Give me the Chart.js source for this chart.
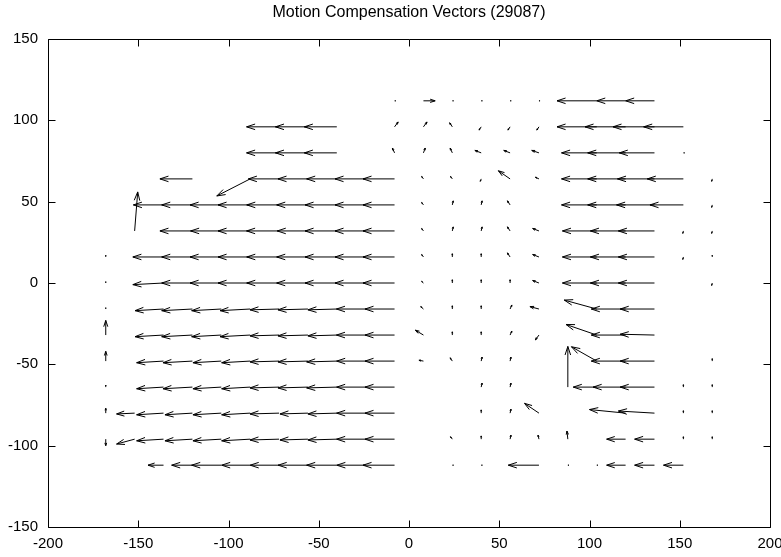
<!DOCTYPE html>
<html>
<head>
<meta charset="utf-8">
<script src="https://cdn.jsdelivr.net/npm/chart.js@4.4.1/dist/chart.umd.min.js"></script>
<style>
html,body{margin:0;padding:0;background:#fff;}
#wrap{width:781px;height:557px;}
</style>
</head>
<body>
<div id="wrap"><canvas id="c" width="781" height="557"></canvas></div>
<script>
const chartTitle = 'Motion Compensation Vectors (29087)';
const xTicks = [-200, -150, -100, -50, 0, 50, 100, 150, 200];
const yTicks = [-150, -100, -50, 0, 50, 100, 150];

// each row: [tail x, dx, dy]
const r112 = [[-8,0.6,0],[8,6.5,0],[24,0.6,0],[40,0.6,0],[56,0.6,0],[72,0.6,0],[104,-22,0],[120,-16,0],[136,-16,0]];
const r96 = [[-72,-18,0],[-56,-18,0],[-40,-18,0],
  [-8,2,3],[8,2,3],[24,-1.5,2.5],[40,-1.2,-2],[56,-1.2,-2],[72,-1.2,-2],
  [104,-22,0],[120,-22.5,0],[136,-23,0],[152,-22,0]];
const r80 = [[-72,-18,0],[-56,-18,0],[-40,-18,0],
  [-8,-1.2,3],[8,1,3],[24,-1.2,3],[40,-3.5,1.5],[56,-3.5,1.5],[72,-4,1.5],
  [104,-19.5,0],[120,-21,0],[136,-19.5,0],[152,0.6,0]];
const r64 = [[-120,-18,0],[-88,-18.5,-10.5],[-72,-17,0],[-56,-16.6,0],[-40,-16.7,0],[-24,-17,0],[-8,-17.5,0],
  [8,-1,1.5],[24,-1,1.5],[40,-0.5,-1.5],[56,-6.5,5],[72,-2,1],
  [104,-19.5,0],[120,-21,0],[136,-20.5,0],[152,-20,0],[168,-0.3,-1.5]];
const r48 = [[-136,-16.7,0],[-120,-17,0],[-104,-17.3,0],[-88,-17.8,0],[-72,-17.9,0],[-56,-17.3,0],[-40,-17.6,0],[-24,-17,0],[-8,-17.5,0],
  [8,-1,1.5],[24,0.5,2.5],[40,0.5,2.5],[56,-1.5,2.5],
  [104,-19.5,0],[120,-21,0],[136,-21,0],[152,-18.5,0],[168,-0.3,-1.5]];
const r32 = [[-152,1.7,24],[-120,-18,0],[-104,-17,0],[-88,-17.8,0],[-72,-18,0],[-56,-17,0],[-40,-17.6,0],[-24,-17,0],[-8,-17.5,0],
  [8,-1,1.5],[24,0.5,2.5],[40,0.5,2.5],[56,-1.5,2.5],[72,-3.5,1.5],
  [104,-19,0],[120,-19.5,0],[136,-20,0],[152,-0.3,-1.5],[168,-0.3,-1.5]];
const r16 = [[-168,0,1],[-136,-17,0],[-120,-17,0],[-104,-17.3,0],[-88,-17.8,0],[-72,-17.9,0],[-56,-17.3,0],[-40,-17.6,0],[-24,-17,0],[-8,-17.5,0],
  [8,-1,1.5],[24,0,2],[40,0,2],[56,-1.5,2.5],[72,-3.5,1.5],
  [104,-19,0],[120,-19.5,0],[136,-20,0],[152,-0.3,-1.5],[168,0,1]];
const r0 = [[-168,0,0.8],[-136,-17,-1],[-120,-17,0],[-104,-17.3,0],[-88,-17.8,0],[-72,-17.9,0],[-56,-17.3,0],[-40,-17.6,0],[-24,-17,0],[-8,-17.5,0],
  [8,-1,1],[24,0,2],[40,0,2],[56,0,2],[72,-3.5,1.5],
  [104,-19,0],[120,-19.5,0],[136,-20,0],[168,-0.3,-1.5]];
const rm16 = [[-168,0,0.8],[-136,-15.8,-1],[-120,-17,-1],[-104,-16.4,-1],[-88,-16.7,-1],[-72,-16.1,-0.5],[-56,-16.6,-0.5],[-40,-16,-0.5],[-24,-16.2,0],[-8,-16.4,0],
  [8,-1.5,1.5],[24,0,2],[40,0,2],[56,1,2.5],[72,-5,1.5],
  [104,-18,5.5],[120,-19,0],[136,-19,0]];
const rm32 = [[-168,0,9],[-136,-15.8,-1],[-120,-17,-1],[-104,-16.4,-1],[-88,-16.7,-1],[-72,-16.1,-0.5],[-56,-16.6,-0.5],[-40,-16,-0.5],[-24,-16.2,0],[-8,-16.4,0],
  [8,-4.5,3],[24,0,2],[40,0,2],[56,1,2.5],[72,-2,-3],
  [104,-17,6.5],[120,-19,0],[136,-19,0.5]];
const rm48 = [[-168,0,6],[-136,-14.9,-1],[-120,-16.3,-1],[-104,-15.7,-1],[-88,-15.8,-1],[-72,-16.1,-0.5],[-56,-16.6,-0.5],[-40,-16.7,-0.5],[-24,-16.1,0],[-8,-16.4,0],
  [8,-2.5,0.5],[24,-1.2,2],[40,0.5,2.5],[56,0.5,2.5],
  [104,-14,8.8],[120,-19,0],[136,-19,0],[168,0,1.5]];
const rm64 = [[-168,0,1.2],[-136,-14.9,-1],[-120,-16.3,-1],[-104,-15.7,-1],[-88,-15.8,-1],[-72,-16.1,-0.5],[-56,-16.6,-0.5],[-40,-16.7,-0.5],[-24,-16.1,0],[-8,-16.4,0],
  [40,0.5,2.5],[56,0.5,2.5],[88,0,25],
  [104,-13,0],[120,-18,0],[136,-19,0],[152,0,1.5],[168,0,1.5]];
const rm80 = [[-168,0,3],[-152,-10,-0.5],[-136,-14.9,-1],[-120,-15.2,-1],[-104,-15.7,-1],[-88,-15.8,-1],[-72,-16.1,-0.5],[-56,-15.5,-0.5],[-40,-16,-0.5],[-24,-16.1,0],[-8,-16.4,0],
  [40,0,2],[56,0.5,2.5],[72,-8,6],
  [120,-20,2.2],[136,-20,1.3],[152,0,1.5],[168,0,1.5]];
const rm96 = [[-168,0,-4],[-152,-10,-3],[-136,-14.9,-1],[-120,-15.2,-1],[-104,-15.7,-1],[-88,-15.8,-1],[-72,-16.1,-0.5],[-56,-15.5,-0.5],[-40,-16,-0.5],[-24,-16.1,0],[-8,-16.4,0],
  [24,-1,1.5],[40,0,2],[56,0.5,2.5],[72,-0.5,2.5],[88,-0.5,5],
  [120,-10.5,0],[136,-11,0],[152,0,1.5],[168,0,1.5]];
const rm112 = [[-136,-8.6,0],[-120,-11.5,0],[-104,-16.4,0],[-88,-15.8,0],[-72,-16,0],[-56,-16.5,0],[-40,-16.7,0],[-24,-16,0],[-8,-17.5,0],
  [24,0.6,0],[40,0.6,0],[72,-17,0],[88,0.6,0],[104,0.6,0],[120,-10.5,0],[136,-11,0],[152,-11,0]];

const rowY = [112, 96, 80, 64, 48, 32, 16, 0, -16, -32, -48, -64, -80, -96, -112];
const rowVecs = [r112, r96, r80, r64, r48, r32, r16, r0, rm16, rm32, rm48, rm64, rm80, rm96, rm112];

const points = [];
rowY.forEach((y, i) => rowVecs[i].forEach(([x, dx, dy]) => points.push({x: x, y: y, dx: dx, dy: dy})));

const FONT = 'Liberation Sans, Arial, Helvetica, sans-serif';

const arrowPlugin = {
  id: 'arrows',
  afterDatasetsDraw(chart) {
    const ctx = chart.ctx, xs = chart.scales.x, ys = chart.scales.y;
    ctx.save();
    ctx.strokeStyle = '#000';
    ctx.lineWidth = 1;
    ctx.lineCap = 'butt';
    chart.data.datasets[0].data.forEach(p => {
      const x0 = xs.getPixelForValue(p.x), y0 = ys.getPixelForValue(p.y);
      const x1 = xs.getPixelForValue(p.x + p.dx), y1 = ys.getPixelForValue(p.y + p.dy);
      const len = Math.hypot(x1 - x0, y1 - y0);
      ctx.beginPath();
      ctx.moveTo(x0, y0);
      ctx.lineTo(x1, y1);
      if (len > 0.01) {
        const hl = Math.min(9, len * 0.45);
        const ang = Math.atan2(y1 - y0, x1 - x0);
        const a = 18 * Math.PI / 180;
        ctx.moveTo(x1 - hl * Math.cos(ang - a), y1 - hl * Math.sin(ang - a));
        ctx.lineTo(x1, y1);
        ctx.lineTo(x1 - hl * Math.cos(ang + a), y1 - hl * Math.sin(ang + a));
      }
      ctx.stroke();
    });
    ctx.restore();
  }
};

const framePlugin = {
  id: 'frame',
  afterDraw(chart) {
    const ctx = chart.ctx, xs = chart.scales.x, ys = chart.scales.y;
    const {left, right, top, bottom} = chart.chartArea;
    const L = Math.round(left) + 0.5, R = Math.round(right) + 0.5, T = Math.round(top) + 0.5, B = Math.round(bottom) + 0.5;
    const tl = 7;
    ctx.save();
    ctx.strokeStyle = '#000';
    ctx.lineWidth = 1;
    ctx.beginPath();
    ctx.rect(L, T, R - L, B - T);
    xTicks.forEach(v => {
      const px = Math.round(xs.getPixelForValue(v)) + 0.5;
      ctx.moveTo(px, B); ctx.lineTo(px, B - tl);
      ctx.moveTo(px, T); ctx.lineTo(px, T + tl);
    });
    yTicks.forEach(v => {
      const py = Math.round(ys.getPixelForValue(v)) + 0.5;
      ctx.moveTo(L, py); ctx.lineTo(L + tl, py);
      ctx.moveTo(R, py); ctx.lineTo(R - tl, py);
    });
    ctx.stroke();
    // title, centred over the plot area like the reference
    ctx.fillStyle = '#000';
    ctx.font = '16px ' + FONT;
    ctx.textAlign = 'center';
    ctx.textBaseline = 'middle';
    ctx.fillText(chartTitle, (left + right) / 2, 13);
    ctx.restore();
  }
};

new Chart(document.getElementById('c'), {
  type: 'scatter',
  data: {
    datasets: [{
      label: 'vectors',
      data: points,
      pointRadius: 0,
      pointHoverRadius: 0,
      showLine: false
    }]
  },
  options: {
    responsive: false,
    animation: false,
    devicePixelRatio: 1,
    events: [],
    layout: {padding: {left: 0, right: 11, top: 39, bottom: 0}},
    plugins: {
      legend: {display: false},
      tooltip: {enabled: false},
      title: {display: false}
    },
    scales: {
      x: {
        type: 'linear',
        min: -200, max: 200,
        afterBuildTicks: s => { s.ticks = xTicks.map(v => ({value: v})); },
        afterFit: s => { s.height = 30; s.paddingLeft = 0; s.paddingRight = 0; },
        grid: {display: false, drawTicks: false},
        border: {display: false},
        ticks: {color: '#000', font: {family: FONT, size: 15}, padding: 8, maxRotation: 0, autoSkip: false}
      },
      y: {
        type: 'linear',
        min: -150, max: 150,
        afterBuildTicks: s => { s.ticks = yTicks.map(v => ({value: v})); },
        afterFit: s => { s.width = 48; s.paddingTop = 0; s.paddingBottom = 0; },
        grid: {display: false, drawTicks: false},
        border: {display: false},
        ticks: {color: '#000', font: {family: FONT, size: 15}, padding: 10, autoSkip: false}
      }
    }
  },
  plugins: [arrowPlugin, framePlugin]
});
</script>
</body>
</html>
